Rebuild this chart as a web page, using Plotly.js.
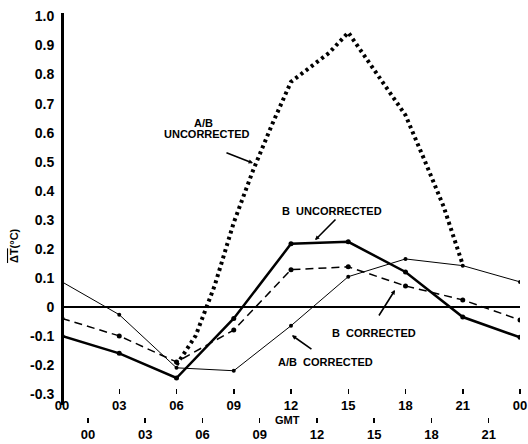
<!DOCTYPE html>
<html>
<head>
<meta charset="utf-8">
<script src="https://cdn.plot.ly/plotly-3.0.1.min.js"></script>
<style>html,body{margin:0;padding:0;background:#fff;}#chart{width:528px;height:444px;}</style>
</head>
<body>
<div id="chart"></div>
<script>
// Data
var hours = [0, 3, 6, 9, 12, 15, 18, 21, 24];
var bUncorrected = [-0.10, -0.16, -0.245, -0.04, 0.217, 0.224, 0.12, -0.035, -0.105];
var bCorrected = [-0.04, -0.10, -0.19, -0.08, 0.128, 0.138, 0.072, 0.024, -0.045];
var abCorrected = [0.086, -0.027, -0.21, -0.22, -0.065, 0.104, 0.165, 0.142, 0.086];
var abUncorrHours = [6, 7, 8, 9, 10, 11, 12, 13, 14, 15, 16, 17, 18, 19, 20, 21];
var abUncorrected = [-0.20, -0.10, 0.073, 0.29, 0.468, 0.627, 0.775, 0.825, 0.875, 0.945, 0.85, 0.755, 0.66, 0.505, 0.345, 0.145];

var upperTickVals = [0, 3, 6, 9, 12, 15, 18, 21, 24];
var upperTickText = ['00', '03', '06', '09', '12', '15', '18', '21', '00'];
var lowerTickVals = [0, 3, 6, 9, 12, 15, 18, 21];
var lowerTickText = ['00', '03', '06', '09', '12', '15', '18', '21'];
var yTickVals = [1.0, 0.9, 0.8, 0.7, 0.6, 0.5, 0.4, 0.3, 0.2, 0.1, 0, -0.1, -0.2, -0.3];
var yTickText = ['1.0', '0.9', '0.8', '0.7', '0.6', '0.5', '0.4', '0.3', '0.2', '0.1', '0', '-0.1', '-0.2', '-0.3'];

var FONT = 'Liberation Sans, Arial, sans-serif';

var traces = [
  {x: abUncorrHours, y: abUncorrected, mode: 'lines', xaxis: 'x', yaxis: 'y',
   line: {color: '#000', width: 4, dash: '3px,3.5px'}, hoverinfo: 'skip'},
  {x: hours, y: abCorrected, mode: 'lines+markers', xaxis: 'x', yaxis: 'y',
   line: {color: '#000', width: 1}, marker: {color: '#000', size: 4}},
  {x: hours, y: bCorrected, mode: 'lines+markers', xaxis: 'x', yaxis: 'y',
   line: {color: '#000', width: 1.5, dash: '8px,5px'}, marker: {color: '#000', size: 5}},
  {x: hours, y: bUncorrected, mode: 'lines+markers', xaxis: 'x', yaxis: 'y',
   line: {color: '#000', width: 2.5}, marker: {color: '#000', size: 5}}
];

function lbl(text, x, y, size) {
  return {text: '<b>' + text + '</b>', x: x, y: y, xref: 'x', yref: 'y', showarrow: false,
          xanchor: 'center', yanchor: 'middle',
          font: {family: FONT, size: size || 11, color: '#000'}};
}
function arrow(tx, ty, hx, hy) {
  return {text: '', x: hx, y: hy, ax: tx, ay: ty, xref: 'x', yref: 'y', axref: 'x', ayref: 'y',
          showarrow: true, arrowhead: 2, arrowsize: 0.55, arrowwidth: 1.6, arrowcolor: '#000', standoff: 0, startstandoff: 0};
}

var annotations = [
  lbl('A/B', 7.44, 0.633),
  lbl('UNCORRECTED', 7.6, 0.595),
  lbl('B  UNCORRECTED', 14.15, 0.33),
  lbl('B  CORRECTED', 16.35, -0.09),
  lbl('A/B  CORRECTED', 13.83, -0.19),
  arrow(8.54, 0.533, 10.01, 0.495),
  arrow(14.41, 0.306, 13.26, 0.230),
  arrow(16.56, -0.035, 17.45, 0.058),
  arrow(13.15, -0.149, 12.05, -0.098),
  {text: '<b>GMT</b>', x: 0.4934, y: 0.0446, xref: 'paper', yref: 'paper', showarrow: false,
   xanchor: 'center', yanchor: 'middle',
   font: {family: FONT, size: 11, color: '#000'}},
  {text: '<b><span style="text-decoration:overline">ΔT</span>(°C)</b>', x: -0.1048, y: 0.453,
   xref: 'paper', yref: 'paper', showarrow: false, textangle: -90,
   xanchor: 'center', yanchor: 'middle',
   font: {family: FONT, size: 11, color: '#000'}}
];

var layout = {
  width: 528, height: 444,
  margin: {l: 62, r: 8, t: 13, b: 5},
  paper_bgcolor: '#fff', plot_bgcolor: '#fff',
  showlegend: false,
  font: {family: FONT, color: '#000'},
  xaxis: {
    range: [0, 24], domain: [0, 1], anchor: 'free', position: 0.1197,
    showline: false, zeroline: false, showgrid: false,
    ticks: 'outside', ticklen: 5, tickwidth: 1.5, tickcolor: '#000',
    tickmode: 'array', tickvals: upperTickVals, ticktext: upperTickText,
    tickfont: {family: FONT, size: 13, color: '#000', weight: 'bold'}
  },
  xaxis2: {
    range: [-1.36, 22.64], overlaying: 'x', anchor: 'free', position: 0.0516,
    showline: false, zeroline: false, showgrid: false,
    ticks: 'outside', ticklen: 5, tickwidth: 1.5, tickcolor: '#000',
    tickmode: 'array', tickvals: lowerTickVals, ticktext: lowerTickText,
    tickfont: {family: FONT, size: 13, color: '#000', weight: 'bold'}
  },
  yaxis: {
    range: [-0.338, 1.012], domain: [0.0798, 1], anchor: 'free', position: 0,
    showline: true, linewidth: 2.5, linecolor: '#000',
    zeroline: true, zerolinewidth: 2.2, zerolinecolor: '#000',
    showgrid: false, ticks: '', ticklabelstandoff: 4,
    tickmode: 'array', tickvals: yTickVals, ticktext: yTickText,
    tickfont: {family: FONT, size: 14, color: '#000', weight: 'bold'}
  },
  annotations: annotations
};

// dummy trace to activate xaxis2
traces.push({x: [0], y: [null], xaxis: 'x2', yaxis: 'y', mode: 'markers', showlegend: false, hoverinfo: 'skip'});

Plotly.newPlot('chart', traces, layout, {staticPlot: true, displayModeBar: false});
</script>
</body>
</html>
